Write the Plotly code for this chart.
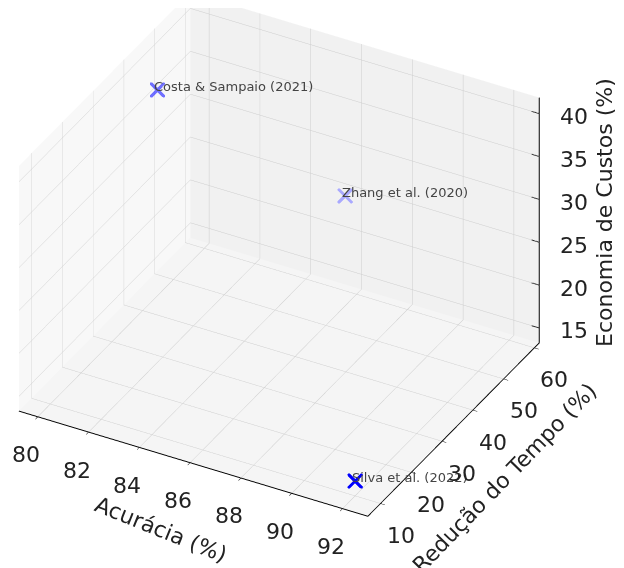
import math
import plotly.graph_objects as go

studies = ["Silva et al. (2022)", "Zhang et al. (2020)", "Costa & Sampaio (2021)"]
acuracia = [92, 87, 80.7]
reducao_tempo = [10, 48, 39]
economia_custos = [15, 30, 40]
marker_alpha = [1.0, 0.3, 0.55]

x_range = [79.26, 93.0]
y_range = [5.9, 61.6]
z_range = [13.26, 41.86]
x_ticks = [80, 82, 84, 86, 88, 90, 92]
y_ticks = [10, 20, 30, 40, 50, 60]
z_ticks = [15, 20, 25, 30, 35, 40]

FONT = "DejaVu Sans"
TICK_FONT = dict(family=FONT, size=22, color="#222222")
TITLE_FONT = dict(family=FONT, size=22, color="#222222")
marker_colors = [f"rgba(0,0,255,{a})" for a in marker_alpha]
EPS = 1e-3
x_hi, y_lo, y_hi, z_lo = x_range[1] - EPS, y_range[0] + EPS, y_range[1] - EPS, z_range[0] + EPS

fig = go.Figure()
fig.add_trace(go.Scatter3d(
    x=acuracia, y=reducao_tempo, z=economia_custos,
    mode="markers",
    marker=dict(symbol="x", size=3.5, color=marker_colors, line=dict(width=0)),
    showlegend=False, hoverinfo="skip",
))
# z axis line on the right-hand back edge (as in the reference)
fig.add_trace(go.Scatter3d(
    x=[x_hi, x_hi], y=[y_hi, y_hi], z=z_range,
    mode="lines", line=dict(color="black", width=2),
    showlegend=False, hoverinfo="skip",
))
# z tick marks
tx, ty, tz = [], [], []
for t in z_ticks:
    tx += [x_hi - 0.3, x_hi, None]
    ty += [y_hi, y_hi, None]
    tz += [t, t, None]
fig.add_trace(go.Scatter3d(
    x=tx, y=ty, z=tz, mode="lines", line=dict(color="black", width=2),
    showlegend=False, hoverinfo="skip",
))

scene_annotations = []
for name, xv, yv, zv in zip(studies, acuracia, reducao_tempo, economia_custos):
    scene_annotations.append(dict(
        x=xv, y=yv, z=zv, text=name, showarrow=False,
        xanchor="left", yanchor="middle", xshift=-5, yshift=3,
        font=dict(family=FONT, size=13, color="#444444"),
    ))
for t in x_ticks:
    scene_annotations.append(dict(
        x=t, y=y_lo, z=z_lo, text=str(t), showarrow=False,
        xanchor="center", yanchor="middle", xshift=-12, yshift=-38, font=TICK_FONT,
    ))
for t in y_ticks:
    scene_annotations.append(dict(
        x=x_hi, y=t, z=z_lo, text=str(t), showarrow=False,
        xanchor="center", yanchor="middle", xshift=20, yshift=-32, font=TICK_FONT,
    ))
for t in z_ticks:
    scene_annotations.append(dict(
        x=x_hi, y=y_hi, z=t, text=str(t), showarrow=False,
        xanchor="center", yanchor="middle", xshift=35, yshift=-3, font=TICK_FONT,
    ))

axis_common = dict(
    showgrid=True, gridcolor="rgb(205,205,205)", gridwidth=1,
    showline=True, linecolor="black", linewidth=2,
    ticks="outside", tickcolor="black", ticklen=5,
    showticklabels=False,
    zeroline=False, showspikes=False, showbackground=True,
    title=dict(text=""),
)

elev = math.radians(31.5)
azim = math.radians(-60)
dist = 2.0
eye = dict(x=dist * math.cos(elev) * math.cos(azim),
           y=dist * math.cos(elev) * math.sin(azim),
           z=dist * math.sin(elev))
shift_right = 0.041
center = dict(x=shift_right * 0.866, y=shift_right * 0.5, z=-0.085)

fig.update_layout(
    width=624, height=568,
    margin=dict(l=0, r=0, t=0, b=0),
    paper_bgcolor="white",
    font=dict(family=FONT),
    scene=dict(
        domain=dict(x=[0, 0.904], y=[0.067, 1]),
        xaxis=dict(axis_common, range=x_range, tickvals=x_ticks,
                   backgroundcolor="rgb(248,248,248)"),
        yaxis=dict(axis_common, range=y_range, tickvals=y_ticks,
                   backgroundcolor="rgb(241,241,241)"),
        zaxis=dict(axis_common, range=z_range, tickvals=z_ticks,
                   showline=False, ticks="",
                   backgroundcolor="rgb(245,245,245)"),
        aspectmode="manual",
        aspectratio=dict(x=1.5, y=1.35, z=1.11),
        camera=dict(eye=eye, center=center,
                    up=dict(x=0, y=0, z=1),
                    projection=dict(type="orthographic")),
        annotations=scene_annotations,
    ),
    annotations=[
        dict(text="Acurácia (%)", x=0.245, y=0.082, xref="paper", yref="paper",
             xanchor="center", yanchor="middle",
             showarrow=False, textangle=22, font=TITLE_FONT),
        dict(text="Redução do Tempo (%)", x=0.795, y=0.172, xref="paper", yref="paper",
             xanchor="center", yanchor="middle",
             showarrow=False, textangle=-46, font=TITLE_FONT),
        dict(text="Economia de Custos (%)", x=0.956, y=0.64, xref="paper", yref="paper",
             xanchor="center", yanchor="middle",
             showarrow=False, textangle=-90, font=TITLE_FONT),
    ],
)

fig.write_html("out.html")
